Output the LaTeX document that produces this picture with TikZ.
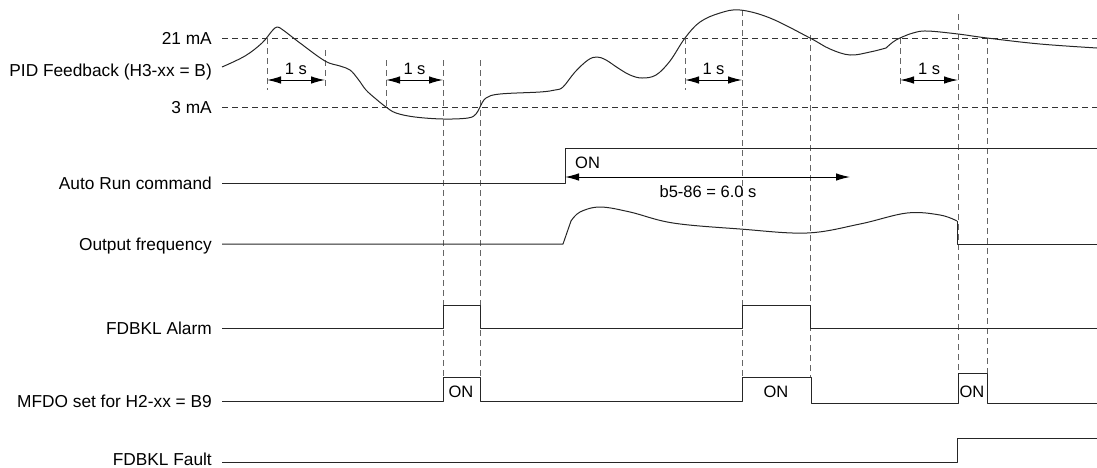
\documentclass[tikz,border=0pt]{standalone}
\usepackage{fontspec}
\setmainfont{Liberation Sans}
\usetikzlibrary{arrows.meta}

\begin{document}
\begin{tikzpicture}[x=1pt, y=-1pt,
		sig/.style={line width=1pt, black!85, line join=round},
		lvl/.style={line width=0.9pt, black!80, dash pattern=on 6pt off 4pt},
		guide/.style={line width=0.9pt, black!60, dash pattern=on 6pt off 4pt},
		span/.style={line width=1pt, {Latex[length=14pt,width=7.5pt]}-{Latex[length=14pt,width=7.5pt]}},
		lbl/.style={anchor=base east, inner sep=0pt, font=\fontsize{17.3}{20}\selectfont},
		txt/.style={inner sep=0pt, font=\fontsize{16.5}{19}\selectfont}]
		
		\useasboundingbox (0,0) rectangle (1097,467);
		
		% --- signal names ---
		\node[lbl] (l21) at (212,44) {21 mA};
		\node[lbl] (lpid) at (212,76) {PID Feedback (H3-xx = B)};
		\node[lbl] (l3) at (212,113) {3 mA};
		\node[lbl] (lrun) at (212,189) {Auto Run command};
		\node[lbl] (lfreq) at (212,250) {Output frequency};
		\node[lbl] (lalm) at (212,334) {FDBKL Alarm};
		\node[lbl] (lmfdo) at (212,407) {MFDO set for H2-xx = B9};
		\node[lbl] (lflt) at (212,465) {FDBKL Fault};
		
		% --- level lines ---
		\draw[lvl] (222,38) -- (1097,38);
		\draw[lvl] (222,107) -- (1097,107);
		
		% --- timing guides ---
		\draw[guide] (267,38) -- (267,90);
		\draw[guide] (325,50) -- (325,88);
		\draw[guide] (386,60) -- (386,107);
		\draw[guide] (443,60) -- (443,377);
		\draw[guide] (480,60) -- (480,377);
		\draw[guide] (685,38) -- (685,90);
		\draw[guide] (742,10) -- (742,377);
		\draw[guide] (810,35) -- (810,377);
		\draw[guide] (900,38) -- (900,86);
		\draw[guide] (958,14) -- (958,373);
		\draw[guide] (987,38) -- (987,373);
		
		% --- PID feedback ---
		\draw[sig] plot[smooth, tension=0.6] coordinates {(222,67) (245,56) (262,43) (272,31) (277,27) (283,30) (300,43) (325,61) (340,66) (350,70) (358,79) (366,90) (376,99) (386,107) (396,113) (415,117) (443,119) (468,118) (476,114) (480,107) (486,98) (500,94) (540,92) (555,90) (563,87) (575,72) (588,60) (597,57) (606,60) (618,68) (630,75) (642,78) (656,75) (670,61) (685,38) (700,22) (720,13) (740,10) (770,18) (810,38) (830,49) (850,55) (870,52) (886,48)};
		\draw[sig] plot[smooth, tension=0.6] coordinates {(886,48) (893,42) (900,38) (913,33) (927,31) (958,34) (987,38) (1040,44) (1097,48)};
		\draw[span] (267,80) -- node[txt, above=5pt] (t1) {1 s} (325,80);
		\draw[span] (386,80) -- node[txt, above=5pt] (t2) {1 s} (443,80);
		\draw[span] (685,80) -- node[txt, above=5pt] (t3) {1 s} (742,80);
		\draw[span] (900,80) -- node[txt, above=5pt] (t4) {1 s} (958,80);
		
		% --- Auto Run command ---
		\draw[sig] (222,183) -- (565,183) -- (565,148) -- (1097,148);
		\node[txt, anchor=west] (on1) at (575,163) {ON};
		\draw[span] (565,177) -- (850,177);
		\node[txt] (tb5) at (708,192) {b5-86 = 6.0 s};
		
		% --- Output frequency ---
		\draw[sig] (222,244) -- (563,244) -- (571,221);
		\draw[sig] plot[smooth, tension=0.6] coordinates {(571,221) (580,212) (600,207) (630,212) (673,223) (740,229) (807,233) (860,224) (907,213) (940,215) (957,221)};
		\draw[sig] (957,221) -- (957,244) -- (1097,244);
		
		% --- FDBKL Alarm ---
		\draw[sig] (222,328) -- (443,328) -- (443,305) -- (480,305) -- (480,328) -- (742,328) -- (742,305) -- (810,305) -- (810,328) -- (1097,328);
		
		% --- MFDO output ---
		\draw[sig] (222,401) -- (443,401) -- (443,377) -- (480,377) -- (480,401) -- (742,401) -- (742,377) -- (811,377) -- (811,403) -- (958,403) -- (958,373) -- (987,373) -- (987,403) -- (1097,403);
		\node[txt] (on2) at (461,392) {ON};
		\node[txt] (on3) at (776,392) {ON};
		\node[txt] (on4) at (972,392) {ON};
		
		% --- FDBKL Fault ---
		\draw[sig] (222,462) -- (957,462) -- (957,438) -- (1097,438);
		
	\end{tikzpicture}
\end{document}
